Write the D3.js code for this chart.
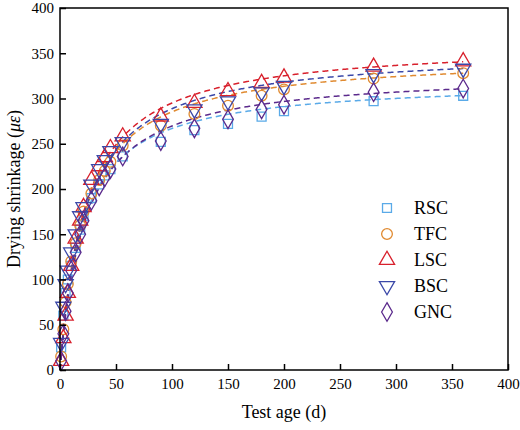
<!DOCTYPE html><html><head><script src="https://cdn.jsdelivr.net/npm/d3@7"></script>
<style>body{margin:0;background:#fff}text{font-family:"Liberation Serif","Times New Roman",serif}</style></head><body>
<svg id="c" width="520" height="430"></svg>
<script>
const ages=[1,3,5,7,10,14,18,21,28,35,40,45,56,90,120,150,180,200,280,360];
const names=["RSC","TFC","LSC","BSC","GNC"];
const RSC=[25,60,85,100,115,135,155,170,190,205,215,222,236,252,265,272,280,286,297,303];
const TFC=[15,45,75,95,120,140,160,175,195,210,220,230,248,270,283,292,303,310,322,328];
const LSC=[10,35,60,85,115,145,165,180,210,225,235,245,258,280,295,308,317,323,335,341];
const BSC=[30,70,95,110,130,150,170,180,205,222,232,242,252,272,288,297,307,314,327,333];
const GNC=[10,40,65,85,110,130,150,165,187,203,213,222,236,253,267,277,288,293,307,311];
const fitA=[320,348,362,354,330];
const fitB=[19.9,22,22.7,22.6,22.4];
const colors=["#5aaae8","#e08a30","#d8202c","#3b48a8","#5b2a8c"];
const symbols=[d3.symbolSquare,d3.symbolCircle,d3.symbolTriangle,d3.symbolTriangle,d3.symbolDiamond];
const series=[RSC,TFC,LSC,BSC,GNC];
const xTicks=d3.range(0,401,50), yTicks=d3.range(0,401,50);
const svg=d3.select("#c");
const L=60,R=508,T=8,B=370;
const x=d3.scaleLinear().domain([0,400]).range([L,R]);
const y=d3.scaleLinear().domain([0,400]).range([B,T]);
const g=svg.append("g");
// curves
const line=d3.line().x(d=>x(d[0])).y(d=>y(d[1]));
series.forEach((s,i)=>{
  const pts=d3.range(0,361,1).map(t=>[t,fitA[i]*t/(fitB[i]+t)]);
  g.append("path").attr("d",line(pts)).attr("fill","none").attr("stroke",colors[i]).attr("stroke-width",1.5).attr("stroke-dasharray","6,4");
});
function sym(i){const sz=[80,90,100,100,100][i];return d3.symbol().type(symbols[i]).size(sz)();}
series.forEach((s,i)=>{
  g.selectAll(null).data(s).enter().append("path").attr("d",sym(i))
   .attr("transform",(d,j)=>`translate(${x(ages[j])},${y(d)})`+(i===3?" rotate(180)":""))
   .attr("fill","none").attr("stroke",colors[i]).attr("stroke-width",1.3);
});
svg.append("rect").attr("x",L).attr("y",T).attr("width",R-L).attr("height",B-T).attr("fill","none").attr("stroke","#000").attr("stroke-width",1.5);
const xa=svg.append("g").attr("transform",`translate(0,${B})`).call(d3.axisBottom(x).tickValues(xTicks).tickSizeInner(-6).tickSizeOuter(0).tickPadding(8));
const ya=svg.append("g").attr("transform",`translate(${L},0)`).call(d3.axisLeft(y).tickValues(yTicks).tickSizeInner(-6).tickSizeOuter(0).tickPadding(6));
[xa,ya].forEach(a=>{a.select(".domain").remove();a.selectAll("line").attr("stroke-width",1.5);a.selectAll("text").attr("font-size",15).attr("fill","#000");});
svg.append("text").attr("x",(L+R)/2).attr("y",418).attr("text-anchor","middle").attr("font-size",18).text("Test age (d)");
svg.append("text").attr("transform",`translate(20,${(T+B)/2}) rotate(-90)`).attr("text-anchor","middle").attr("font-size",18)
  .html('Drying shrinkage (<tspan font-style="italic">με</tspan>)');
names.forEach((n,i)=>{
  const yy=208+i*26;
  svg.append("path").attr("d",sym(i)).attr("transform",`translate(387,${yy})`+(i===3?" rotate(180)":"")).attr("fill","none").attr("stroke",colors[i]).attr("stroke-width",1.3);
  svg.append("text").attr("x",414).attr("y",yy+6).attr("font-size",18).text(n);
});
</script></body></html>
